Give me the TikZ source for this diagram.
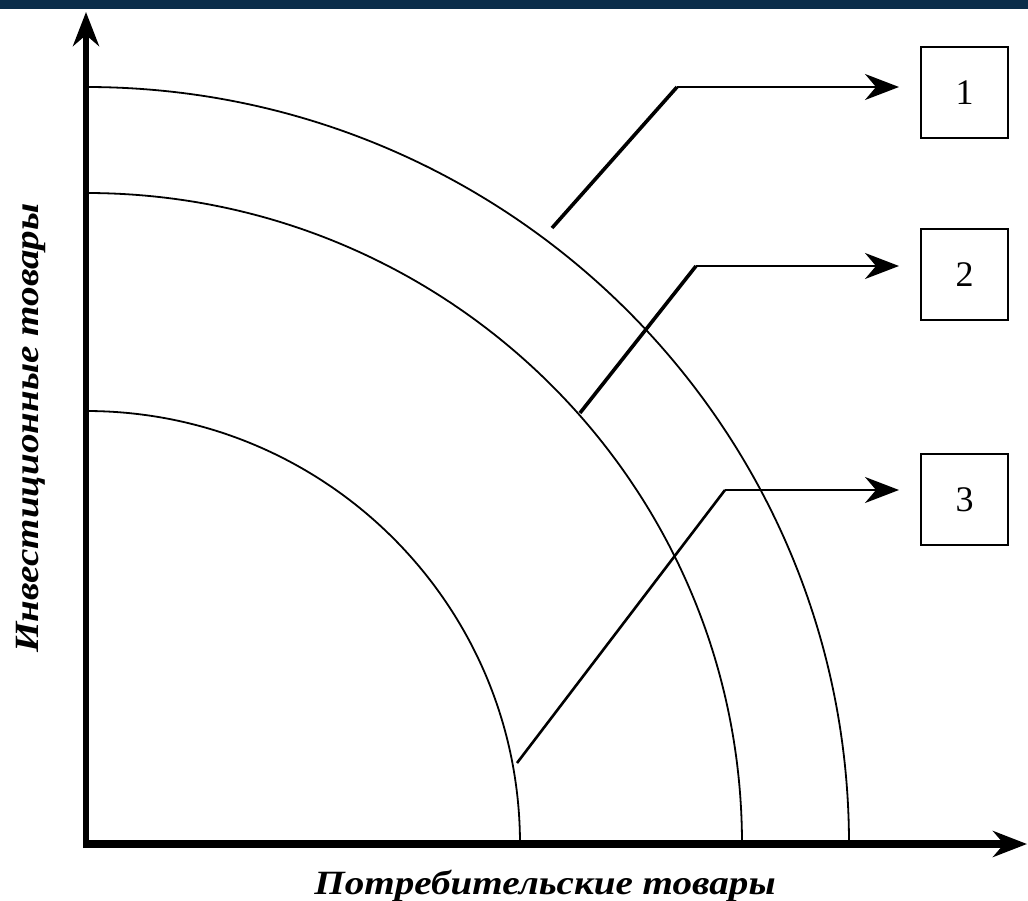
\documentclass[tikz,border=0pt]{standalone}
\usepackage{fontspec}
\setmainfont{Liberation Serif}
\usetikzlibrary{arrows.meta}
\definecolor{band}{HTML}{0B2D4A}
\tikzset{
  axis/.style={line width=6pt,-{Stealth[length=34pt,width=26pt,inset=11pt]}},
  curve/.style={line width=1.8pt},
  ptrthick/.style={line width=3.6pt},
  ptrthin/.style={line width=2.4pt,-{Stealth[length=34pt,width=26pt,inset=11pt]}},
  numbox/.style={draw,line width=2pt,minimum width=87pt,minimum height=91pt,inner sep=0pt,font=\fontsize{36}{36}\selectfont},
  axlabel/.style={font=\fontsize{34}{34}\selectfont\bfseries\itshape,inner sep=0pt}
}
\begin{document}
\begin{tikzpicture}[x=1pt,y=-1pt]
\useasboundingbox (0,0) rectangle (1028,901);
\fill[white] (0,0) rectangle (1028,901);
\fill[band] (0,0) rectangle (1028,9);
% axes
\coordinate (O) at (86,844);
\coordinate (ytop) at (86,12);
\coordinate (xend) at (1027,844);
\coordinate (ybot) at (86,848);
\coordinate (xst) at (83,844);
\draw[axis] (ybot) -- (ytop);
\draw[axis,line width=8pt] (xst) -- (xend);
% curves (quarter ellipses about O)
\draw[curve] (86,87) arc[start angle=90,end angle=0,x radius=763pt,y radius=757pt];
\draw[curve] (86,193) arc[start angle=90,end angle=0,x radius=656pt,y radius=651pt];
\draw[curve] (86,411) arc[start angle=90,end angle=0,x radius=434pt,y radius=433pt];
% boxes
\node[numbox] (b1) at (964.5,93) {1};
\node[numbox] (b2) at (964.5,275) {2};
\node[numbox] (b3) at (964.5,499.5) {3};
% pointers
\coordinate (p1) at (552,228);
\coordinate (c1) at (677,87);
\coordinate (p2) at (580,413);
\coordinate (c2) at (696,266);
\coordinate (p3) at (517,763);
\coordinate (c3) at (725,490);
\draw[ptrthick] (p1) -- (c1);
\draw[ptrthin,shorten >=21pt] (c1) -- (c1 -| b1.west);
\draw[ptrthick] (p2) -- (c2);
\draw[ptrthin,shorten >=21pt] (c2) -- (c2 -| b2.west);
\draw[line width=2.6pt] (p3) -- (c3);
\draw[ptrthin,shorten >=21pt] (c3) -- (c3 -| b3.west);
% labels
\node[axlabel,xscale=1.15,transform shape] (xl) at (545,886) {Потребительские товары};
\node[axlabel,rotate=90,xscale=1.15,transform shape] (yl) at (31,428) {Инвестиционные товары};
\end{tikzpicture}
\end{document}
